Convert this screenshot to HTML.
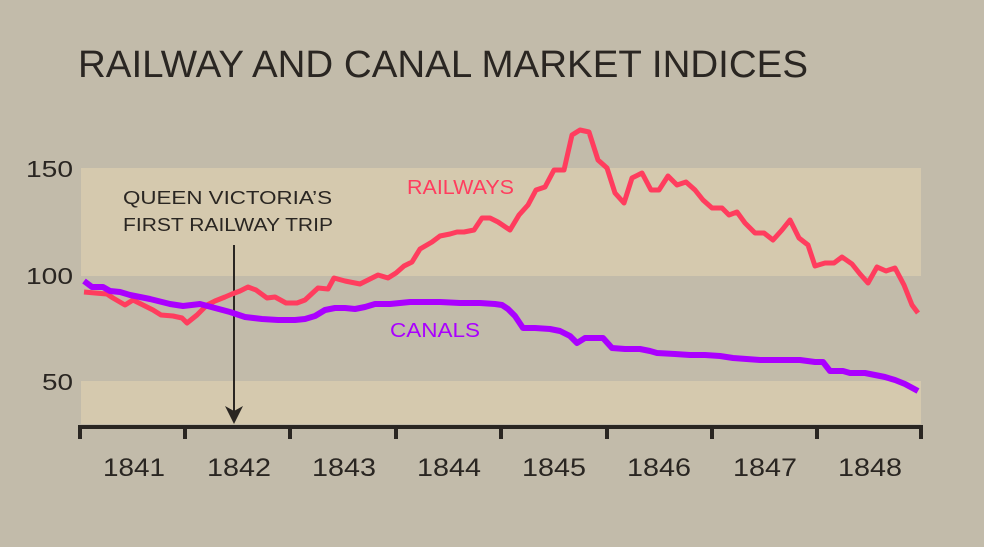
<!DOCTYPE html>
<html><head><style>
body{margin:0;background:#c2bbaa;}
svg{display:block;font-family:"Liberation Sans",sans-serif;}
text{}
</style></head><body>
<svg width="984" height="547" viewBox="0 0 984 547">
<rect width="984" height="547" fill="#c2bbaa"/>
<rect x="81" y="168" width="840" height="108" fill="#d5c9ae"/>
<rect x="81" y="381" width="840" height="43" fill="#d5c9ae"/>
<text x="78" y="77" font-size="38" fill="#2a2622" textLength="730" lengthAdjust="spacingAndGlyphs">RAILWAY AND CANAL MARKET INDICES</text>
<g font-size="23" fill="#2a2622" text-anchor="end">
<text x="73" y="177" textLength="47" lengthAdjust="spacingAndGlyphs">150</text><text x="73" y="284" textLength="47" lengthAdjust="spacingAndGlyphs">100</text><text x="73" y="390" textLength="31" lengthAdjust="spacingAndGlyphs">50</text></g>
<g font-size="25" fill="#2a2622">
<text x="103" y="476" textLength="62" lengthAdjust="spacingAndGlyphs">1841</text><text x="207" y="476" textLength="64" lengthAdjust="spacingAndGlyphs">1842</text><text x="312" y="476" textLength="64" lengthAdjust="spacingAndGlyphs">1843</text><text x="417" y="476" textLength="64" lengthAdjust="spacingAndGlyphs">1844</text><text x="522" y="476" textLength="64" lengthAdjust="spacingAndGlyphs">1845</text><text x="627" y="476" textLength="64" lengthAdjust="spacingAndGlyphs">1846</text><text x="733" y="476" textLength="64" lengthAdjust="spacingAndGlyphs">1847</text><text x="838" y="476" textLength="64" lengthAdjust="spacingAndGlyphs">1848</text></g>
<g stroke="#2a2622" stroke-width="4" fill="none">
<path d="M80,427H921M80,425V439M185,425V439M290,425V439M396,425V439M501,425V439M607,425V439M712,425V439M817,425V439M921,425V439"/></g>
<g font-size="18" fill="#2a2622">
<text x="123" y="204" textLength="209" lengthAdjust="spacingAndGlyphs">QUEEN VICTORIA’S</text><text x="123" y="231" textLength="210" lengthAdjust="spacingAndGlyphs">FIRST RAILWAY TRIP</text></g>
<line x1="234" y1="245" x2="234" y2="412" stroke="#2a2622" stroke-width="2"/>
<path d="M225,406 L234,424 L243,406 L234,411Z" fill="#2a2622"/>
<polyline fill="none" stroke="#ff3d5e" stroke-width="5" stroke-linejoin="round" points="84,292 95,293 107,294 113,298 125,305 133,300 145,306 153,310 161,315 173,316 182,318 187,323 197,315 207,305 215,301 225,297 232,294 240,291 248,287 256,290 267,298 275,297 286,303 297,303 305,300 318,288 328,289 334,278 345,281 360,284 368,280 378,275 388,278 396,273 404,266 412,262 420,249 432,242 440,236 450,234 457,232 464,232 474,230 482,218 490,218 498,222 510,230 519,215 528,205 536,190 545,187 554,170 564,170 572,135 580,130 589,132 598,160 607,168 615,193 624,203 632,178 642,173 651,190 659,190 668,176 677,185 686,182 695,190 703,200 712,208 722,208 729,215 737,212 745,223 755,233 764,233 773,240 782,230 790,220 799,238 808,245 815,266 825,263 834,263 842,257 852,264 860,274 868,283 877,267 886,271 895,268 904,285 912,305 918,313"/>
<polyline fill="none" stroke="#aa00ff" stroke-width="6" stroke-linejoin="round" points="84,281 92,287 103,287 110,291 120,292 130,295 150,299 170,304 183,306 200,304 215,308 230,312 245,317 262,319 278,320 295,320 305,319 315,316 325,310 335,308 345,308 355,309 365,307 375,304 390,304 410,302 420,302 440,302 460,303 480,303 495,304 502,305 508,309 515,316 523,328 535,328 550,329 560,331 570,336 577,343 585,338 603,338 612,348 625,349 640,349 650,351 657,353 675,354 690,355 705,355 720,356 733,358 760,360 775,360 785,360 800,360 815,362 823,362 830,371 843,371 850,373 865,373 875,375 885,377 895,380 905,384 918,391"/>
<text x="407" y="194" font-size="20" fill="#ff3d5e" textLength="107" lengthAdjust="spacingAndGlyphs">RAILWAYS</text>
<text x="390" y="337" font-size="20" fill="#aa00ff" textLength="90" lengthAdjust="spacingAndGlyphs">CANALS</text>
</svg>
</body></html>
